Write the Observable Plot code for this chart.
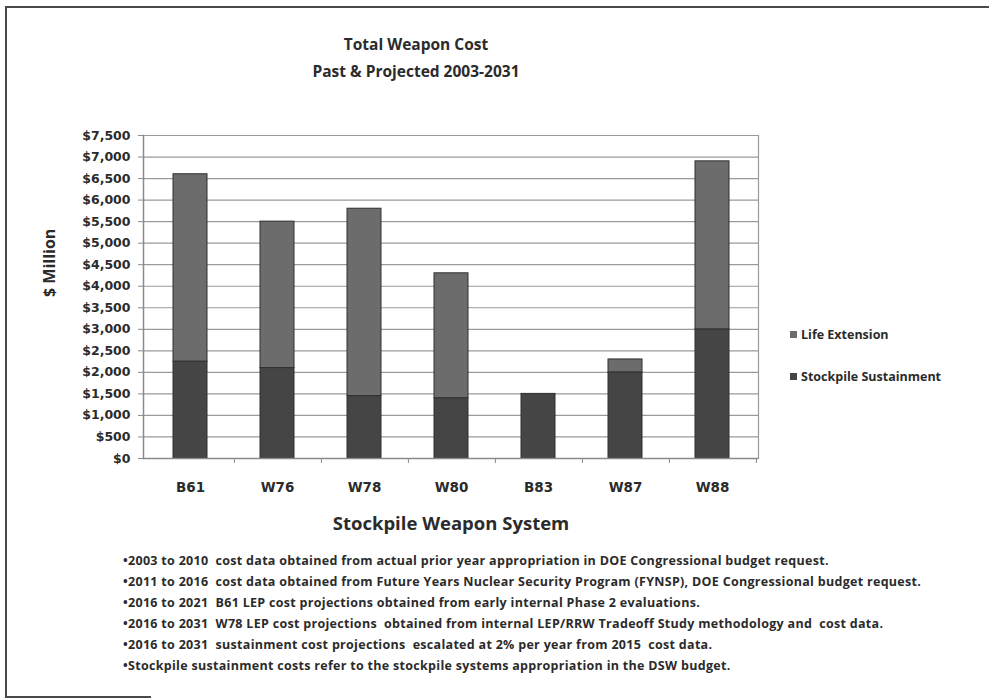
<!DOCTYPE html>
<html>
<head>
<meta charset="utf-8">
<script src="https://cdn.jsdelivr.net/npm/d3@7"></script>
<script src="https://cdn.jsdelivr.net/npm/@observablehq/plot@0.6"></script>
<style>
  html, body { margin: 0; padding: 0; background: #fff; }
  #page { position: relative; width: 989px; height: 700px; overflow: hidden; font-family: "Open Sans", sans-serif; color: #2b2b2b; }
  .edge { position: absolute; background: #4a4a4a; }
  #title { position: absolute; left: 0; top: 31px; width: 832px; text-align: center; font-weight: 700; font-size: 15.5px; line-height: 27px; }
  #plot { position: absolute; left: 0; top: 100px; }
  .legend-item { position: absolute; left: 790px; font-weight: 700; font-size: 12.5px; line-height: 16px; white-space: nowrap; }
  .legend-item span.sw { display: inline-block; width: 7px; height: 7px; margin-right: 4px; vertical-align: 1px; }
  #notes { position: absolute; left: 123px; top: 550px; font-weight: 700; font-size: 12.5px; letter-spacing: 0.3px; line-height: 21px; white-space: pre; }
</style>
</head>
<body>
<div id="page">
  <div class="edge" style="left:5px; top:6px; width:984px; height:2px;"></div>
  <div class="edge" style="left:5px; top:6px; width:2px; height:692px;"></div>
  <div class="edge" style="left:5px; top:696px; width:146px; height:2px;"></div>
  <div id="title"></div>
  <div id="plot"></div>
  <div id="legend"></div>
  <div id="notes"></div>
</div>
<script>
// Weapon systems along the category axis
const systems = ["B61", "W76", "W78", "W80", "B83", "W87", "W88"];
// Cost components, $ million, 2003-2031
const sustainment = [2250, 2100, 1450, 1400, 1500, 2000, 3000];
const lifeExtension = [4350, 3400, 4350, 2900, 0, 300, 3900];
// Series names (stack order bottom to top) and legend order
const seriesNames = ["Stockpile Sustainment", "Life Extension"];
const legendOrder = ["Life Extension", "Stockpile Sustainment"];
const seriesColors = ["#454545", "#6c6c6c"];
// Value axis ticks
const yTicks = d3.range(0, 7501, 500);

const titleLines = ["Total Weapon Cost", "Past & Projected 2003-2031"];
const yLabel = "$ Million";
const xLabel = "Stockpile Weapon System";
const notes = [
  "\u20222003 to 2010  cost data obtained from actual prior year appropriation in DOE Congressional budget request.",
  "\u20222011 to 2016  cost data obtained from Future Years Nuclear Security Program (FYNSP), DOE Congressional budget request.",
  "\u20222016 to 2021  B61 LEP cost projections obtained from early internal Phase 2 evaluations.",
  "\u20222016 to 2031  W78 LEP cost projections  obtained from internal LEP/RRW Tradeoff Study methodology and  cost data.",
  "\u20222016 to 2031  sustainment cost projections  escalated at 2% per year from 2015  cost data.",
  "\u2022Stockpile sustainment costs refer to the stockpile systems appropriation in the DSW budget."
];

// Long-format rows for the stacked bars
const rows = [];
systems.forEach((s, i) => {
  rows.push({system: s, series: seriesNames[0], value: sustainment[i]});
  rows.push({system: s, series: seriesNames[1], value: lifeExtension[i]});
});

const tickFont = {fontFamily: "DejaVu Sans", fontWeight: "bold"};

const chart = Plot.plot({
  width: 989,
  height: 440,
  marginTop: 35,
  marginBottom: 82,
  marginLeft: 143,
  marginRight: 231,
  style: {background: "transparent", color: "#2b2b2b", overflow: "visible"},
  x: {domain: systems, paddingInner: 0.61, paddingOuter: 0.305, label: null},
  y: {domain: [0, 7500], label: null},
  color: {domain: seriesNames, range: seriesColors},
  marks: [
    Plot.gridY(yTicks, {stroke: "#9a9a9a", strokeOpacity: 1, strokeWidth: 1.2}),
    Plot.barY(rows, Plot.stackY({
      x: "system", y: "value", fill: "series",
      order: seriesNames, stroke: "#303030", strokeWidth: 1
    })),
    Plot.frame({anchor: "left", stroke: "#8a8a8a", strokeWidth: 1.5}),
    Plot.frame({anchor: "right", stroke: "#9a9a9a", strokeWidth: 1.2}),
    Plot.ruleY([0], {stroke: "#8a8a8a", strokeWidth: 1.5}),
    Plot.axisY(yTicks, {
      tickFormat: d => "$" + d3.format(",")(d),
      tickSize: 5, tickPadding: 8, stroke: "#8a8a8a",
      fontSize: 12.5, ...tickFont, letterSpacing: 0.8, label: null
    }),
    // category separators below the baseline
    Plot.axisX({tickSize: 5, text: null, dx: 43.9, stroke: "#8a8a8a", label: null}),
    Plot.axisX({tickSize: 0, tickPadding: 24, fontSize: 13.5, ...tickFont, label: null}),
    Plot.text([yLabel], {
      frameAnchor: "left", dx: -94, rotate: -90, text: d => d,
      fontSize: 16, fontWeight: "bold", fontFamily: "Open Sans", lineAnchor: "middle"
    }),
    Plot.text([xLabel], {
      frameAnchor: "bottom", dy: 66, text: d => d,
      fontSize: 18.5, fontWeight: "bold", fontFamily: "Open Sans", lineAnchor: "middle"
    })
  ]
});
document.getElementById("plot").appendChild(chart);

document.getElementById("title").innerHTML = titleLines.map(t => `<div>${t.replace("&", "&amp;")}</div>`).join("");

const legendTop = [327, 369];
document.getElementById("legend").innerHTML = legendOrder.map((name, i) =>
  `<div class="legend-item" style="top:${legendTop[i]}px"><span class="sw" style="background:${seriesColors[seriesNames.indexOf(name)]}"></span>${name}</div>`
).join("");

document.getElementById("notes").innerHTML = notes.map(t => `<div>${t}</div>`).join("");
</script>
</body>
</html>
